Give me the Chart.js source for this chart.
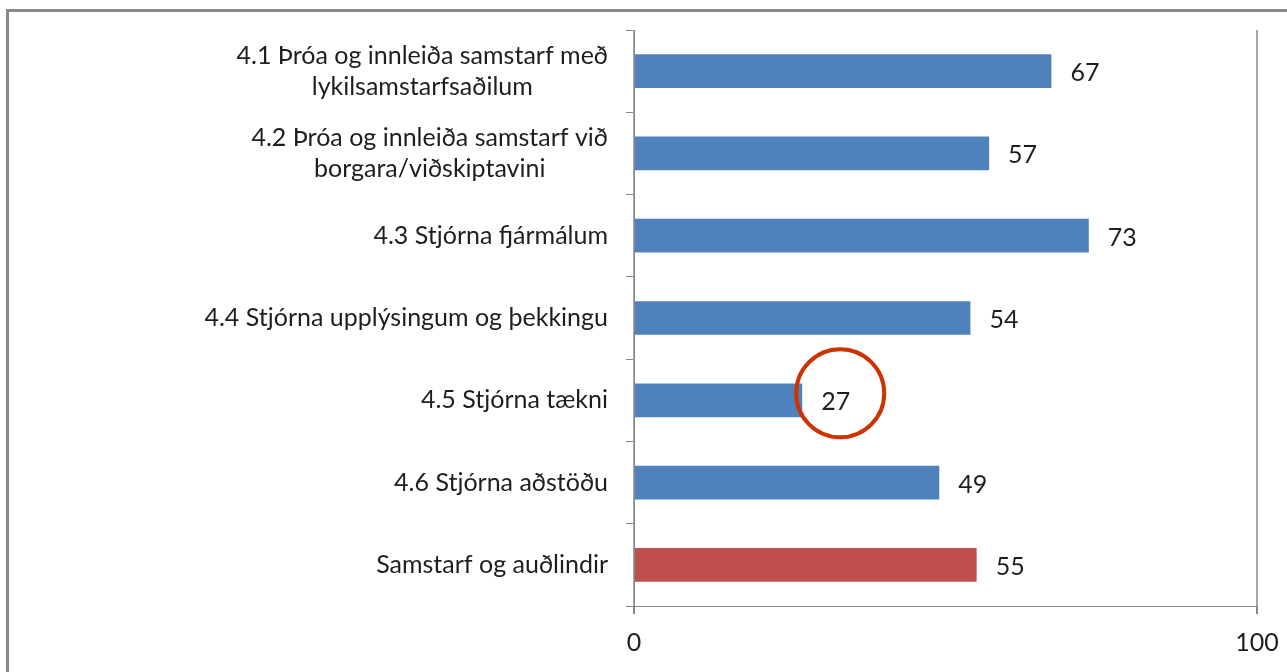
<!DOCTYPE html>
<html>
<head>
<meta charset="utf-8">
<script src="https://cdn.jsdelivr.net/npm/chart.js@4.4.1/dist/chart.umd.min.js"></script>
<style>
  html, body { margin: 0; padding: 0; background: #fff; }
  #wrap { width: 1287px; height: 672px; }
</style>
</head>
<body>
<div id="wrap"><canvas id="chart" width="1287" height="672"></canvas></div>
<script>
// Data
const categories = [
  ["4.1 Þróa og innleiða samstarf með", "lykilsamstarfsaðilum"],
  ["4.2 Þróa og innleiða samstarf við", "borgara/viðskiptavini"],
  "4.3 Stjórna fjármálum",
  "4.4 Stjórna upplýsingum og þekkingu",
  "4.5 Stjórna tækni",
  "4.6 Stjórna aðstöðu",
  "Samstarf og auðlindir"
];
const scores = [67, 57, 73, 54, 27, 49, 55];
const barColors = ["#4F81BD", "#4F81BD", "#4F81BD", "#4F81BD", "#4F81BD", "#4F81BD", "#C0504D"];
const xTicks = [0, 100];
const highlighted = 4; // the circled bar

const FONT = "Lato";
const FONT_SIZE = 25;
const TEXT = "#1e1e1e";

// frame round the chart, open to the right and bottom like the crop
const framePlugin = {
  id: "frame",
  beforeDraw(chart) {
    const ctx = chart.ctx;
    ctx.save();
    ctx.strokeStyle = "#8a8a8a";
    ctx.lineWidth = 3;
    ctx.beginPath();
    ctx.moveTo(7.5, 700);
    ctx.lineTo(7.5, 10.5);
    ctx.lineTo(1300, 10.5);
    ctx.stroke();
    ctx.restore();
  }
};

// category labels, lines centred on each other and right-aligned as a block
const catLabelPlugin = {
  id: "catLabels",
  afterDraw(chart) {
    const ctx = chart.ctx;
    const y = chart.scales.y;
    const right = y.right - 26;
    const lh = 31;
    ctx.save();
    ctx.font = FONT_SIZE + "px " + FONT;
    ctx.fillStyle = TEXT;
    ctx.textBaseline = "middle";
    ctx.textAlign = "center";
    categories.forEach((c, i) => {
      const lines = Array.isArray(c) ? c : [c];
      const w = Math.max(...lines.map(l => ctx.measureText(l).width));
      const cy = y.getPixelForValue(i);
      const top = cy - (lines.length - 1) * lh / 2;
      lines.forEach((l, k) => ctx.fillText(l, right - w / 2, top + k * lh));
    });
    ctx.restore();
  }
};

// value labels next to the bars and the red ring round the low one
const valuePlugin = {
  id: "values",
  afterDatasetsDraw(chart) {
    const ctx = chart.ctx;
    const meta = chart.getDatasetMeta(0);
    ctx.save();
    ctx.font = FONT_SIZE + "px " + FONT;
    ctx.fillStyle = TEXT;
    ctx.textBaseline = "middle";
    ctx.textAlign = "left";
    meta.data.forEach((bar, i) => {
      ctx.fillText(String(scores[i]), bar.x + 19, bar.y + 2);
    });
    const b = meta.data[highlighted];
    ctx.strokeStyle = "#CC3300";
    ctx.lineWidth = 4;
    ctx.beginPath();
    ctx.arc(b.x + 38, b.y - 7, 44, 0, Math.PI * 2);
    ctx.stroke();
    ctx.restore();
  }
};

new Chart(document.getElementById("chart"), {
  type: "bar",
  data: {
    labels: categories,
    datasets: [{
      data: scores,
      backgroundColor: barColors,
      borderWidth: 0,
      barPercentage: 0.41,
      categoryPercentage: 1
    }]
  },
  options: {
    indexAxis: "y",
    responsive: false,
    animation: false,
    events: [],
    layout: { padding: { top: 30, right: 30, bottom: 0, left: 0 } },
    plugins: { legend: { display: false }, tooltip: { enabled: false } },
    scales: {
      y: {
        afterFit(scale) { scale.width = 634; },
        ticks: { display: false },
        grid: {
          offset: true,
          drawOnChartArea: false,
          drawTicks: true,
          tickLength: 8,
          color: "#868686"
        },
        border: { display: true, color: "#868686", width: 1 }
      },
      x: {
        min: 0,
        max: 100,
        afterFit(scale) {
          scale.height = 66;
          scale.paddingLeft = 0;
          scale.paddingRight = 0;
        },
        afterBuildTicks(scale) { scale.ticks = xTicks.map(v => ({ value: v })); },
        ticks: {
          color: TEXT,
          font: { family: FONT, size: FONT_SIZE },
          padding: 14,
          maxRotation: 0
        },
        grid: {
          color: "#a6a6a6",
          lineWidth: 2,
          tickLength: 8,
          tickColor: "#868686"
        },
        border: { display: true, color: "#868686", width: 1 }
      }
    }
  },
  plugins: [framePlugin, catLabelPlugin, valuePlugin]
});
</script>
</body>
</html>
